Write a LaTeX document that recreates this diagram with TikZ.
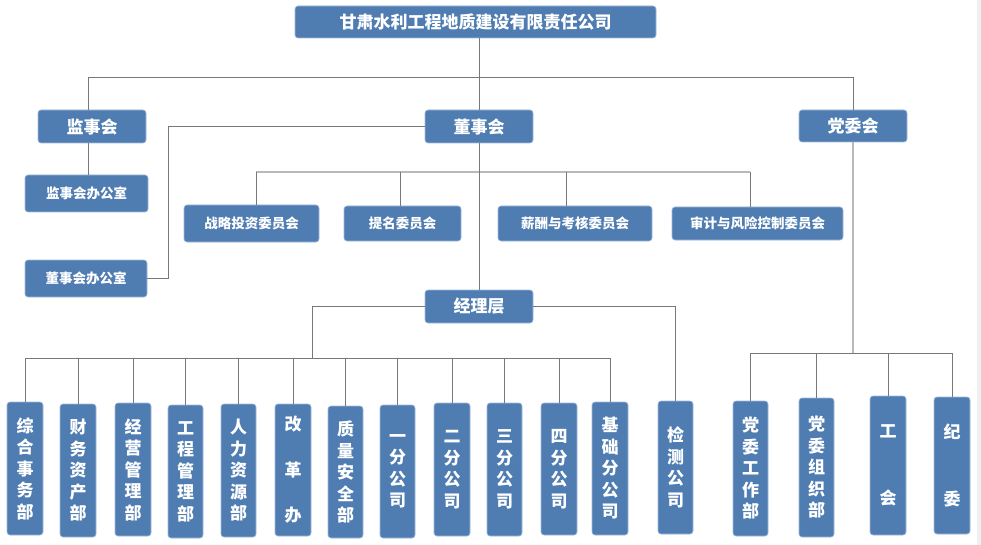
\documentclass[tikz,border=0pt]{standalone}
\usepackage{fontspec}
\newfontfamily\cjk{Noto Sans CJK SC}
\definecolor{boxblue}{RGB}{79,125,178}
\definecolor{boxedge}{RGB}{160,185,218}
\definecolor{linegray}{RGB}{120,120,120}
\definecolor{lightline}{RGB}{185,185,185}
\newcommand\mybox[7]{\node[#6, minimum width=#4pt, minimum height=#5pt] (#1) at (#2,#3) {#7};}
\begin{document}
\begin{tikzpicture}[x=1pt,y=-1pt,
 box/.style={rectangle, rounded corners=3pt, fill=boxblue, draw=boxedge, line width=0.6pt, text=white, inner sep=0pt, font=\cjk\bfseries\fontsize{17}{20}\selectfont},
 sbox/.style={box, font=\cjk\bfseries\fontsize{13.5}{16}\selectfont},
 vbox/.style={box, align=center, font=\cjk\bfseries\fontsize{17}{21.5}\selectfont},
 conn/.style={draw=linegray, line width=0.9pt},
 lconn/.style={draw=lightline, line width=1.4pt}]
\useasboundingbox (0,0) rectangle (981,545);
\fill[white] (0,0) rectangle (981,545);
\fill[gray!12] (977,0) rectangle (981,545);

% top levels
\mybox{top}{475.5}{22}{361}{32}{box}{甘肃水利工程地质建设有限责任公司}
\mybox{jsh}{92}{126.5}{108}{33}{box}{监事会}
\mybox{dsh}{479}{126.5}{108}{33}{box}{董事会}
\mybox{dwh}{853}{126}{108}{32}{box}{党委会}
\mybox{jsbg}{86.5}{193.5}{123}{37}{sbox}{监事会办公室}
\mybox{dsbg}{86}{278.5}{122}{37}{sbox}{董事会办公室}
\mybox{zlw}{251.5}{223.5}{135}{37}{sbox}{战略投资委员会}
\mybox{tmw}{402.5}{223.5}{117}{35}{sbox}{提名委员会}
\mybox{xcw}{575}{223.5}{154}{35}{sbox}{薪酬与考核委员会}
\mybox{sjw}{757.5}{223.5}{171}{33}{sbox}{审计与风险控制委员会}
\mybox{jlc}{479}{306.5}{108}{33}{box}{经理层}

% bottom vertical boxes
\mybox{zh}{25}{468.5}{36}{133}{vbox}{综\\合\\事\\务\\部}
\mybox{cw}{78}{470.5}{36}{133}{vbox}{财\\务\\资\\产\\部}
\mybox{jy}{133}{469.5}{36}{133}{vbox}{经\\营\\管\\理\\部}
\mybox{gc}{185.5}{471.5}{35}{133}{vbox}{工\\程\\管\\理\\部}
\mybox{rl}{238.5}{470.5}{35}{133}{vbox}{人\\力\\资\\源\\部}
\mybox{gg}{293}{470}{36}{132}{vbox}{改\\[24pt]革\\[24pt]办}
\mybox{zla}{345.5}{472}{35}{132}{vbox}{质\\量\\安\\全\\部}
\mybox{yf}{397.5}{471.5}{35}{133}{vbox}{一\\分\\公\\司}
\mybox{ef}{452}{469.5}{36}{133}{vbox}{二\\分\\公\\司}
\mybox{sf}{504.5}{469.5}{35}{133}{vbox}{三\\分\\公\\司}
\mybox{sif}{559}{469}{36}{132}{vbox}{四\\分\\公\\司}
\mybox{jc}{610}{468.5}{36}{133}{vbox}{基\\础\\分\\公\\司}
\mybox{jcgs}{675.5}{467.5}{35}{133}{vbox}{检\\测\\公\\司}
\mybox{dwgz}{750.5}{468.5}{35}{135}{vbox}{党\\委\\工\\作\\部}
\mybox{dwzz}{816.5}{467.5}{35}{139}{vbox}{党\\委\\组\\织\\部}
\mybox{gh}{888}{465.5}{36}{139}{vbox}{工\\[45pt]会}
\mybox{jw}{952}{465.5}{36}{137}{vbox}{纪\\[45pt]委}

% helper coordinates
\coordinate (tb) at (0,77);
\coordinate (jx) at (88,0);
\coordinate (dk) at (168,0);
\coordinate (c1) at (256,172);
\coordinate (c2) at (400,172);
\coordinate (c3) at (566,172);
\coordinate (c4) at (750,172);
\coordinate (mj) at (312,358);
\coordinate (pb) at (0,353);

% top bus
\draw[conn] (dsh.north |- top.south) -- (dsh.north |- tb);
\draw[conn] (jx |- tb) -- (dwh.north |- tb);
\draw[conn] (jx |- tb) -- (jx |- jsh.north);
\draw[conn] (dsh.north |- tb) -- (dsh.north);
\draw[conn] (dwh.north |- tb) -- (dwh.north);

% supervisory
\draw[conn] (jx |- jsh.south) -- (jx |- jsbg.north);
% board office
\draw[conn] (dsh.west) -| (dk |- dsbg.east) -- (dsbg.east);
% committees
\draw[lconn] (c1) -- (c4);
\draw[conn] (c1) -- (c1 |- zlw.north);
\draw[conn] (c2) -- (c2 |- tmw.north);
\draw[conn] (c3) -- (c3 |- xcw.north);
\draw[conn] (c4) -- (c4 |- sjw.north);
% board to management
\draw[conn] (dsh.south) -- (jlc.north);
% management branches
\draw[conn] (jlc.west) -| (mj);
\draw[conn] (jlc.east) -| (jcgs.north);
\draw[conn] (zh.north |- mj) -- (jc.north |- mj);
\foreach \n in {zh,cw,jy,gc,rl,gg,zla,yf,ef,sf,sif,jc}
  \draw[conn] (\n.north |- mj) -- (\n.north);
% party
\draw[lconn] (dwh.south) -- (dwh.south |- pb);
\draw[conn] (dwgz.north |- pb) -- (jw.north |- pb);
\foreach \n in {dwgz,dwzz,gh,jw}
  \draw[conn] (\n.north |- pb) -- (\n.north);
\end{tikzpicture}
\end{document}
